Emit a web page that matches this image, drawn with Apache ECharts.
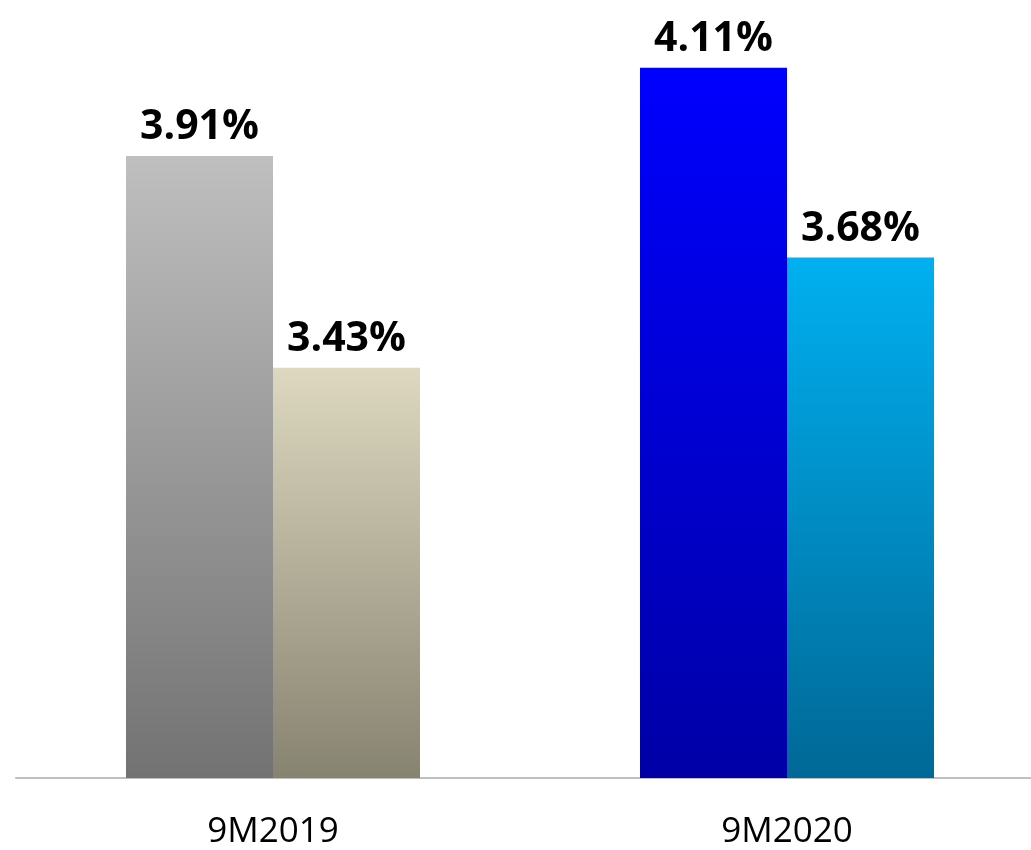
<!DOCTYPE html>
<html>
<head>
<meta charset="utf-8">
<script src="https://cdn.jsdelivr.net/npm/echarts@6/dist/echarts.min.js"></script>
<style>
    html, body { margin: 0; padding: 0; background: #fff; overflow: hidden; }
    /* 图表比窗口略宽，右侧被裁掉 */
    #main { width: 1044px; height: 850px; }
</style>
</head>
<body>
<div id="main"></div>
<script>
    // 数据
    var categories = ['9M2019', '9M2020'];
    var firstValues = [3.91, 4.11];
    var secondValues = [3.43, 3.68];

    // 每根柱子的渐变色 [上, 下]
    var firstColors = [['#bfbfbf', '#727272'], ['#0000ff', '#0000a6']];
    var secondColors = [['#ddd8bf', '#878371'], ['#00b0f0', '#006896']];

    function grad(c) {
        return new echarts.graphic.LinearGradient(0, 0, 0, 1, [
            {offset: 0, color: c[0]},
            {offset: 1, color: c[1]}
        ]);
    }

    function buildData(values, colors) {
        return values.map(function(v, i) {
            return {value: v, itemStyle: {color: grad(colors[i])}};
        });
    }

    var labelStyle = {
        show: true,
        position: 'top',
        distance: 8,
        color: '#000',
        fontSize: 41,
        fontWeight: 'bold',
        fontFamily: 'Open Sans',
        formatter: function(p) {
            return p.value.toFixed(2) + '%';
        }
    };

    var chart = echarts.init(document.getElementById('main'));
    chart.setOption({
        backgroundColor: '#fff',
        animation: false,
        grid: {left: 16, right: 0, top: 28, bottom: 71, containLabel: false},
        xAxis: {
            type: 'category',
            data: categories,
            axisLine: {lineStyle: {color: '#bfbfbf', width: 2}},
            axisTick: {show: false},
            axisLabel: {
                color: '#000',
                fontSize: 35,
                fontFamily: 'Open Sans',
                margin: 37
            }
        },
        yAxis: {
            type: 'value',
            min: 2.5,
            max: 4.2,
            show: false,
            splitLine: {show: false}
        },
        series: [{
            name: 'A',
            type: 'bar',
            barWidth: 147,
            barGap: '0%',
            data: buildData(firstValues, firstColors),
            label: labelStyle
        }, {
            name: 'B',
            type: 'bar',
            barWidth: 147,
            barGap: '0%',
            data: buildData(secondValues, secondColors),
            label: labelStyle
        }]
    });
</script>
</body>
</html>
